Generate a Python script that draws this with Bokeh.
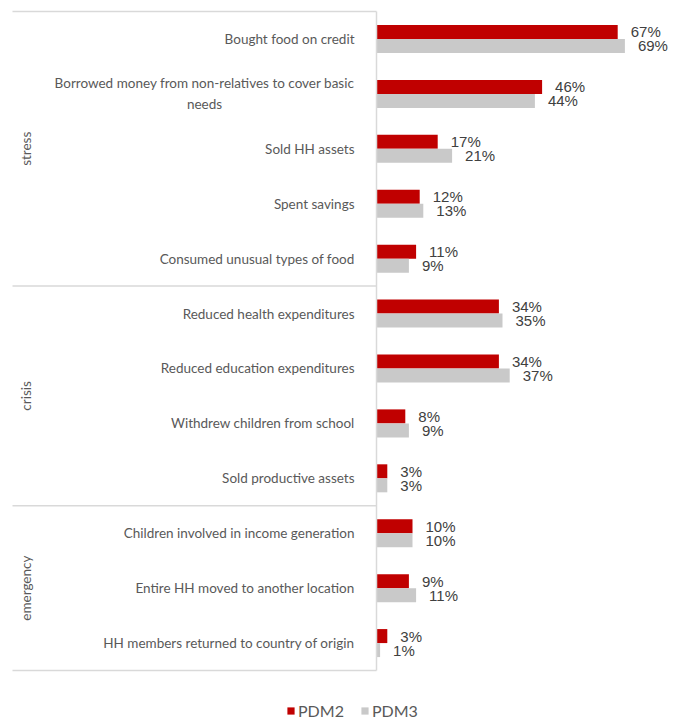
import numpy as np
from bokeh.plotting import figure
from bokeh.models import Range1d, ColumnDataSource, Legend, LegendItem
from bokeh.core.properties import value
from bokeh.embed import file_html
from bokeh.resources import INLINE

# ---------------- data ----------------
groups = ["stress", "crisis", "emergency"]
group_sizes = [5, 4, 3]
categories = [
    "Bought food on credit",
    "Borrowed money from non-relatives to cover basic\nneeds",
    "Sold HH assets",
    "Spent savings",
    "Consumed unusual types of food",
    "Reduced health expenditures",
    "Reduced education expenditures",
    "Withdrew children from school",
    "Sold productive assets",
    "Children involved in income generation",
    "Entire HH moved to another location",
    "HH members returned to country of origin",
]
pdm2 = [67, 46, 17, 12, 11, 34, 34, 8, 3, 10, 9, 3]
pdm3 = [69, 44, 21, 13, 9, 35, 37, 9, 3, 10, 11, 1]
series = ["PDM2", "PDM3"]

# ---------------- layout ----------------
W, H = 675, 719
X0 = 376      # pixel of the zero line
PXU = 3.6     # pixels per percent
Y0 = 11       # pixel of top of first row
ROW = 54.92   # pixels per category row
LEFT = 12     # pixel where separator lines start

x_start = -X0 / PXU
x_end = (W - X0) / PXU
y_top = -Y0 / ROW
y_bottom = (H - Y0) / ROW

RED = "#C00000"
GREY = "#C9C9C9"
LINE = "#D9D9D9"

p = figure(width=W, height=H,
           x_range=Range1d(x_start, x_end),
           y_range=Range1d(y_bottom, y_top),
           x_axis_type=None, y_axis_type=None,
           toolbar_location=None, output_backend="svg",
           min_border=0, outline_line_color=None)
p.background_fill_color = "white"
p.border_fill_color = "white"

n = len(categories)
centers = np.arange(n) + 0.5
bh = 0.255

src = ColumnDataSource(dict(
    y2=centers - bh / 2, y3=centers + bh / 2,
    v2=pdm2, v3=pdm3,
    t2=[f"{v}%" for v in pdm2], t3=[f"{v}%" for v in pdm3],
    cat=categories, yc=centers, zero=[0] * n,
))

r2 = p.hbar(y="y2", left=0, right="v2", height=bh, source=src,
            fill_color=RED, line_color=None)
r3 = p.hbar(y="y3", left=0, right="v3", height=bh, source=src,
            fill_color=GREY, line_color=None)

# value labels
lab_font = value("Liberation Sans")
p.text(x="v2", y="y2", text="t2", source=src, x_offset=13,
       text_baseline="middle", text_align="left",
       text_font=lab_font, text_font_size="15px", text_color="#404040")
p.text(x="v3", y="y3", text="t3", source=src, x_offset=13,
       text_baseline="middle", text_align="left",
       text_font=lab_font, text_font_size="15px", text_color="#404040")

# category labels
p.text(x="zero", y="yc", text="cat", source=src, x_offset=-22,
       text_align="center", text_baseline="middle", anchor="center_right",
       text_line_height=1.3,
       text_font=value("Lato"), text_font_size="13.5px", text_color="#595959")

# group boundaries & labels
bounds = np.concatenate([[0], np.cumsum(group_sizes)])
xl = x_start + LEFT / PXU
p.segment(x0=[xl] * len(bounds), x1=[0] * len(bounds), y0=bounds, y1=bounds,
          line_color=LINE, line_width=1.5)
p.segment(x0=[0], x1=[0], y0=[bounds[0]], y1=[bounds[-1]],
          line_color=LINE, line_width=1.5)
gcent = (bounds[:-1] + bounds[1:]) / 2
p.text(x=[x_start] * len(groups), y=gcent, text=groups, x_offset=25,
       angle=np.pi / 2, text_align="center", text_baseline="middle",
       text_font=value("Lato"), text_font_size="13.5px", text_color="#595959")

# legend
legend = Legend(items=[LegendItem(label=series[0], renderers=[r2]),
                       LegendItem(label=series[1], renderers=[r3])],
                orientation="horizontal", location=(286, -1),
                glyph_width=9, glyph_height=9, label_standoff=3, spacing=16,
                padding=0, margin=0, border_line_color=None,
                background_fill_alpha=0, label_height=15,
                label_text_font="Lato", label_text_font_size="16px",
                label_text_color="#595959")
p.add_layout(legend)

open("out.html", "w").write(file_html(p, INLINE))
